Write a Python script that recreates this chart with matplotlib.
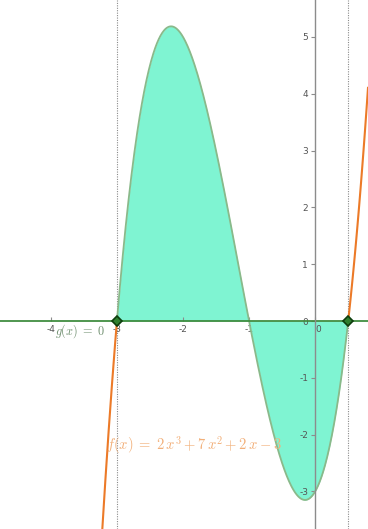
"""Area between f(x) = 2x^3 + 7x^2 + 2x - 3 and g(x) = 0."""

import matplotlib
matplotlib.use("Agg")
import matplotlib.pyplot as plt
import numpy as np

# polynomial coefficients of f, highest power first
f_coeffs = [2, 7, 2, -3]
g_value = 0
bounds = [-3, 0.5]          # integration limits (roots of f)
x_ticks = [-4, -3, -2, -1, 0]
y_ticks = [-3, -2, -1, 0, 1, 2, 3, 4, 5]
x_range = [-4.77, 0.80]
y_range = [-3.66, 5.65]

orange = "#ec7a28"
fill_col = "#7ff4d2"
edge_col = "#8ab98a"
green = "#3c8a3c"

plt.rcParams["axes.unicode_minus"] = False
plt.rcParams["mathtext.fontset"] = "cm"

fig = plt.figure(figsize=(3.68, 5.29), dpi=100)
ax = fig.add_axes([0, 0, 1, 1])
ax.set_xlim(*x_range)
ax.set_ylim(*y_range)

xs = np.linspace(x_range[0], x_range[1], 800)
fx = np.polyval(f_coeffs, xs)
xi = np.linspace(bounds[0], bounds[1], 400)
fi = np.polyval(f_coeffs, xi)

ax.fill_between(xi, fi, g_value, color=fill_col, lw=0, zorder=1)
ax.plot(xi, fi, color=edge_col, lw=1.3, zorder=2)
left = xs <= bounds[0]
right = xs >= bounds[1]
ax.plot(xs[left], fx[left], color=orange, lw=1.5, zorder=3)
ax.plot(xs[right], fx[right], color=orange, lw=1.5, zorder=3)

# g(x) = 0 line
ax.axhline(g_value, color=green, lw=1.4, alpha=0.9, zorder=2)

for b in bounds:
    ax.axvline(b, color="#8a8a8a", lw=0.8, ls=(0, (1, 1.2)), zorder=1)
ax.plot(bounds, [g_value] * len(bounds), "D", ms=5.5, mfc="#2f7f2f",
        mec="#0d3d0d", mew=1.2, zorder=5)

# axes through origin
for side in ["top", "right", "bottom"]:
    ax.spines[side].set_visible(False)
ax.spines["left"].set_position(("data", 0))
ax.spines["left"].set_color("#8c8c8c")
ax.spines["left"].set_linewidth(1.0)
ax.spines["bottom"].set_position(("data", 0))
ax.set_xticks(x_ticks)
ax.set_yticks(y_ticks)
ax.tick_params(axis="y", direction="out", length=3, width=0.8, colors="#8c8c8c",
               labelcolor="#555555", labelsize=6.5, pad=2)
ax.tick_params(axis="x", direction="in", length=3, width=0.8, colors="#8c8c8c",
               labelcolor="#555555", labelsize=6.5, pad=3)
for lbl in ax.get_xticklabels():
    if lbl.get_text() == "0":
        lbl.set_horizontalalignment("left")
ax.patch.set_alpha(0)

ax.text(-3.93, -0.17, r"$g(x)\;=\;0$", color="#6f8f6f", fontsize=8.8,
        ha="left", va="center", zorder=6)
ax.text(-1.84, -2.18, r"$f(x)\;=\;2\,x^3 + 7\,x^2 + 2\,x - 3$", color="#f2b07a",
        fontsize=10.5, ha="center", va="center", zorder=6)

fig.savefig("out.png", dpi=100)
